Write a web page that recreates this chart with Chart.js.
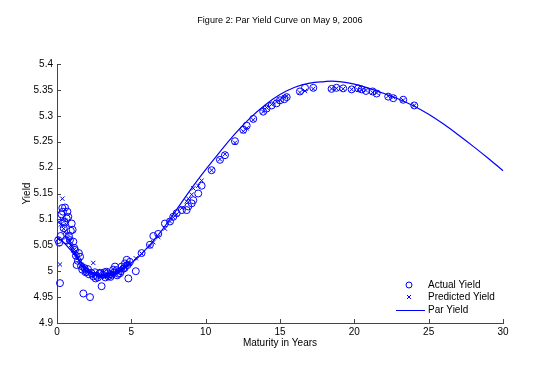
<!DOCTYPE html>
<html>
<head>
<meta charset="utf-8">
<script src="https://cdn.jsdelivr.net/npm/chart.js@4/dist/chart.umd.min.js"></script>
<style>
html, body { margin: 0; padding: 0; background: #fff; }
</style>
</head>
<body>
<canvas id="yieldcanvas" width="538" height="375"></canvas>
<script>
// one entry per bond: maturity (years), actual and model yield
var maturity = [0.08, 0.15, 0.20, 0.25, 0.30, 0.36, 0.40, 0.45, 0.50, 0.54,
	0.60, 0.65, 0.70, 0.76, 0.80, 0.87, 0.93, 0.99, 1.05, 1.10,
	1.16, 1.21, 1.27, 1.32, 1.40, 1.47, 1.55, 1.62, 1.70, 1.77,
	1.85, 1.92, 1.99, 2.08, 2.15, 2.22, 2.33, 2.44, 2.55, 2.65,
	2.75, 2.85, 3.00, 3.10, 3.20, 3.34, 3.45, 3.55, 3.67, 3.78,
	3.90, 4.01, 4.12, 4.24, 4.35, 4.46, 4.57, 4.69, 4.80, 4.90,
	5.30, 5.69, 6.25, 6.48, 6.81, 7.26, 7.60, 7.82, 8.05, 8.40,
	8.72, 8.83, 9.06, 9.17, 9.50, 9.73, 10.40, 10.96, 11.30, 11.97,
	12.53, 12.76, 13.20, 13.87, 14.10, 14.44, 14.77, 15.00, 15.29, 15.45,
	16.34, 16.68, 17.24, 18.47, 18.80, 19.25, 19.82, 20.26, 20.49, 20.78,
	21.23, 21.50, 22.28, 22.62, 23.29, 24.03,
	2.60, 2.90, 3.25, 3.40, 3.60, 3.85, 4.05, 4.30, 4.55, 4.75];
var actualYield = [5.060, 5.055, 4.977, 5.068, 5.110, 5.122, 5.115, 5.083, 5.095, 5.123,
	5.060, 5.102, 5.115, 5.105, 5.068, 5.060, 5.078, 5.092, 5.080, 5.057,
	5.045, 5.041, 5.030, 5.012, 5.020, 5.035, 5.028, 5.010, 5.003, 4.957,
	5.006, 4.998, 4.999, 5.004, 4.994, 4.950, 4.996, 4.990, 4.998, 4.991,
	4.988, 4.995, 4.971, 4.993, 4.998, 4.999, 4.990, 4.994, 4.993, 5.003,
	5.009, 5.002, 4.995, 4.996, 5.009, 5.005, 5.015, 5.022, 4.986, 5.018,
	5.000, 5.035, 5.051, 5.068, 5.072, 5.092, 5.096, 5.105, 5.112, 5.118,
	5.118, 5.125, 5.131, 5.137, 5.150, 5.165, 5.195, 5.215, 5.224, 5.251,
	5.273, 5.281, 5.294, 5.308, 5.314, 5.320, 5.324, 5.330, 5.332, 5.336,
	5.347, 5.354, 5.354, 5.352, 5.354, 5.353, 5.351, 5.353, 5.351, 5.348,
	5.347, 5.343, 5.337, 5.334, 5.331, 5.320,
	4.986, 4.997, 4.988, 4.996, 4.989, 4.998, 4.992, 5.000, 5.006, 5.012];
var predictedYield = [5.062, 5.095, 5.013, 5.090, 5.100, 5.140, 5.088, 5.082, 5.075, 5.098,
	5.065, 5.090, 5.072, 5.060, 5.055, 5.058, 5.050, 5.048, 5.045, 5.040,
	5.042, 5.035, 5.032, 5.028, 5.025, 5.020, 5.018, 5.012, 5.010, 5.008,
	5.004, 5.003, 5.000, 4.998, 5.000, 4.996, 4.995, 5.016, 4.993, 4.994,
	4.992, 4.991, 4.990, 4.991, 4.990, 4.992, 4.993, 4.994, 4.993, 4.996,
	4.998, 4.999, 5.001, 5.002, 5.004, 5.006, 5.009, 5.012, 5.015, 5.014,
	5.025, 5.034, 5.048, 5.056, 5.066, 5.082, 5.096, 5.104, 5.110, 5.122,
	5.135, 5.140, 5.148, 5.160, 5.165, 5.175, 5.195, 5.216, 5.226, 5.248,
	5.270, 5.276, 5.292, 5.308, 5.316, 5.322, 5.327, 5.331, 5.336, 5.338,
	5.345, 5.348, 5.352, 5.352, 5.353, 5.352, 5.351, 5.350, 5.350, 5.349,
	5.345, 5.344, 5.338, 5.336, 5.330, 5.320,
	4.994, 4.991, 4.990, 4.992, 4.994, 4.997, 4.999, 5.003, 5.008, 5.013];

// fitted par yield curve
var parMaturity = [0, 0.5, 1, 1.5, 2, 2.5, 3, 3.5, 4, 4.5, 5, 5.5, 6, 7, 8, 9, 10, 11, 12, 13,
	14, 15, 16, 17, 18, 18.5, 19, 20, 21, 22, 23, 24, 25, 26, 27, 28, 29, 30];
var parYield = [5.066, 5.054, 5.038, 5.021, 5.006, 4.996, 4.991, 4.991, 4.996, 5.005,
	5.016, 5.028, 5.043, 5.077, 5.117, 5.158, 5.196, 5.232, 5.266, 5.296,
	5.321, 5.341, 5.355, 5.363, 5.366, 5.367, 5.366, 5.361, 5.353, 5.343, 5.332,
	5.319, 5.303, 5.284, 5.263, 5.241, 5.218, 5.194];

var xTicks = [0, 5, 10, 15, 20, 25, 30];
var yTicks = [4.9, 4.95, 5, 5.05, 5.1, 5.15, 5.2, 5.25, 5.3, 5.35, 5.4];

var blue = 'rgb(0, 0, 255)';
var font = '"Liberation Sans", Arial, sans-serif';

function points(xs, ys) {
	var out = [];
	for (var i in xs) {
		out.push({x: xs[i], y: ys[i]});
	}
	return out;
}

// inward ticks, title, axis labels and the legend
var decor = {
	id: 'decor',
	afterDraw: function(chart) {
		var ctx = chart.ctx;
		var sx = chart.scales.x;
		var sy = chart.scales.y;
		var area = chart.chartArea;
		ctx.save();
		ctx.strokeStyle = '#444';
		ctx.lineWidth = 1;
		ctx.beginPath();
		xTicks.forEach(function(v) {
			var px = Math.round(sx.getPixelForValue(v)) + 0.5;
			ctx.moveTo(px, area.bottom);
			ctx.lineTo(px, area.bottom - 4);
		});
		yTicks.forEach(function(v) {
			var py = Math.round(sy.getPixelForValue(v)) + 0.5;
			ctx.moveTo(area.left, py);
			ctx.lineTo(area.left + 4, py);
		});
		ctx.stroke();

		ctx.fillStyle = '#000';
		ctx.textAlign = 'center';
		ctx.textBaseline = 'middle';
		var midX = (area.left + area.right) / 2;
		ctx.font = '9px ' + font;
		ctx.fillText('Figure 2: Par Yield Curve on May 9, 2006', midX, 21);
		ctx.font = '10px ' + font;
		ctx.fillText('Maturity in Years', midX, 343);
		ctx.save();
		ctx.translate(27, (area.top + area.bottom) / 2);
		ctx.rotate(-Math.PI / 2);
		ctx.fillText('Yield', 0, 0);
		ctx.restore();

		// legend
		ctx.textAlign = 'left';
		ctx.fillText('Actual Yield', 428, 285);
		ctx.fillText('Predicted Yield', 428, 297);
		ctx.fillText('Par Yield', 428, 310);
		ctx.strokeStyle = blue;
		ctx.beginPath();
		ctx.arc(409, 285, 3, 0, Math.PI * 2);
		ctx.stroke();
		ctx.beginPath();
		ctx.moveTo(407, 295); ctx.lineTo(411, 299);
		ctx.moveTo(411, 295); ctx.lineTo(407, 299);
		ctx.stroke();
		ctx.beginPath();
		ctx.moveTo(396, 310.5); ctx.lineTo(425, 310.5);
		ctx.stroke();
		ctx.restore();
	}
};

var chartdata = {
	datasets: [
		{
			label: 'Par Yield',
			data: points(parMaturity, parYield),
			showLine: true,
			borderColor: blue,
			borderWidth: 1.2,
			pointRadius: 0,
			cubicInterpolationMode: 'monotone',
			clip: false
		},
		{
			label: 'Predicted Yield',
			data: points(maturity, predictedYield),
			pointStyle: 'crossRot',
			pointRadius: 3,
			borderColor: blue,
			borderWidth: 1,
			clip: false
		},
		{
			label: 'Actual Yield',
			data: points(maturity, actualYield),
			pointStyle: 'circle',
			pointRadius: 3.5,
			borderColor: blue,
			backgroundColor: 'rgba(0,0,0,0)',
			borderWidth: 1,
			clip: false
		}
	]
};

var ctx = document.getElementById('yieldcanvas');

var yieldChart = new Chart(ctx, {
	type: 'scatter',
	data: chartdata,
	options: {
		responsive: false,
		animation: false,
		devicePixelRatio: 1,
		layout: { padding: { left: 0, top: 64, right: 35, bottom: 0 } },
		plugins: {
			legend: { display: false },
			tooltip: { enabled: false }
		},
		scales: {
			x: {
				type: 'linear',
				min: 0,
				max: 30,
				afterFit: function(s) { s.height = 52; },
				afterBuildTicks: function(s) {
					s.ticks = xTicks.map(function(v) { return {value: v}; });
				},
				grid: { display: false, drawTicks: false },
				border: { display: true, color: '#444', width: 1 },
				ticks: {
					padding: 3,
					color: '#000',
					font: { family: font, size: 10 },
					callback: function(v) { return String(v); }
				}
			},
			y: {
				type: 'linear',
				min: 4.9,
				max: 5.4,
				afterFit: function(s) { s.width = 57; },
				afterBuildTicks: function(s) {
					s.ticks = yTicks.map(function(v) { return {value: v}; });
				},
				grid: { display: false, drawTicks: false },
				border: { display: true, color: '#444', width: 1 },
				ticks: {
					padding: 4,
					color: '#000',
					font: { family: font, size: 10 },
					callback: function(v) { return String(+v.toFixed(2)); }
				}
			}
		}
	},
	plugins: [decor]
});
</script>
</body>
</html>
